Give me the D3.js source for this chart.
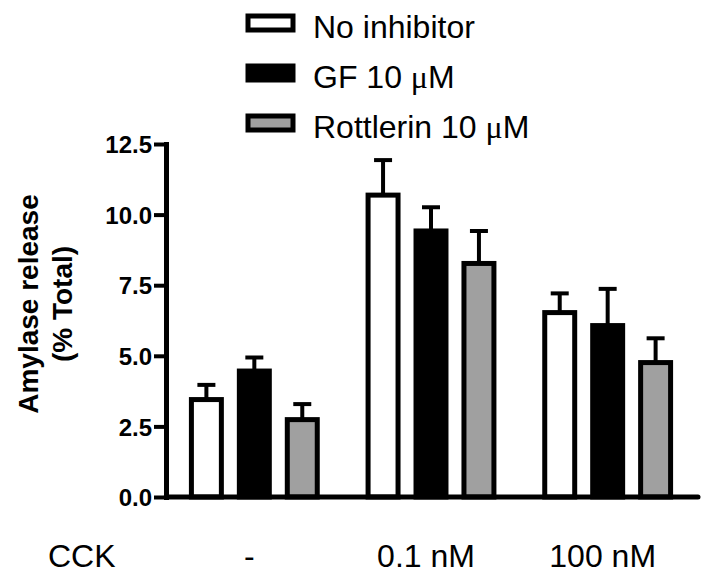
<!DOCTYPE html>
<html>
<head>
<meta charset="utf-8">
<script src="https://cdn.jsdelivr.net/npm/d3@7"></script>
<style>
  body { margin: 0; background: #fff; }
  text { font-family: 'Liberation Sans', Arial, sans-serif; }
</style>
</head>
<body>
<div id="chart"></div>
<script>
const groups = ['-', '0.1 nM', '100 nM']
const series = ['No inhibitor', 'GF 10 \u03bcM', 'Rottlerin 10 \u03bcM']
const seriesColors = ['#ffffff', '#000000', '#a0a0a0']

// mean and SEM per group, one array per series
const noInhibitor = [3.45, 10.69, 6.53]
const noInhibitorErr = [0.52, 1.24, 0.68]
const gf = [4.46, 9.42, 6.07]
const gfErr = [0.48, 0.84, 1.3]
const rottlerin = [2.74, 8.27, 4.76]
const rottlerinErr = [0.55, 1.15, 0.86]

const yTicks = [0, 2.5, 5, 7.5, 10, 12.5]

const width = 709
const height = 586

const svg = d3
  .select('#chart')
  .append('svg')
  .attr('width', width)
  .attr('height', height)

const xPositionScale = d3
  .scaleBand()
  .domain(groups)
  .range([166, 696])

const innerScale = d3
  .scaleBand()
  .domain(series)
  .range([0, xPositionScale.bandwidth()])
  .paddingInner(0.375)
  .paddingOuter(0.53)

const yPositionScale = d3
  .scaleLinear()
  .domain([0, 12.5])
  .range([497, 144])

const colorScale = d3.scaleOrdinal().domain(series).range(seriesColors)

const means = [noInhibitor, gf, rottlerin]
const errs = [noInhibitorErr, gfErr, rottlerinErr]

const datapoints = []
series.forEach((s, i) => {
  groups.forEach((g, j) => {
    datapoints.push({ group: g, series: s, value: means[i][j], err: errs[i][j] })
  })
})

const barX = d => xPositionScale(d.group) + innerScale(d.series)
const barMid = d => barX(d) + innerScale.bandwidth() / 2

// error bars (upper only)
svg
  .selectAll('.err-line')
  .data(datapoints)
  .enter()
  .append('line')
  .attr('class', 'err-line')
  .attr('x1', barMid)
  .attr('x2', barMid)
  .attr('y1', d => yPositionScale(d.value))
  .attr('y2', d => yPositionScale(d.value + d.err))
  .attr('stroke', '#000')
  .attr('stroke-width', 4)

svg
  .selectAll('.err-cap')
  .data(datapoints)
  .enter()
  .append('line')
  .attr('class', 'err-cap')
  .attr('x1', d => barMid(d) - 9)
  .attr('x2', d => barMid(d) + 9)
  .attr('y1', d => yPositionScale(d.value + d.err))
  .attr('y2', d => yPositionScale(d.value + d.err))
  .attr('stroke', '#000')
  .attr('stroke-width', 4)

svg
  .selectAll('.bar')
  .data(datapoints)
  .enter()
  .append('rect')
  .attr('class', 'bar')
  .attr('x', barX)
  .attr('width', innerScale.bandwidth())
  .attr('y', d => yPositionScale(d.value))
  .attr('height', d => yPositionScale(0) - yPositionScale(d.value))
  .attr('fill', d => colorScale(d.series))
  .attr('stroke', '#000')
  .attr('stroke-width', 5)

// y axis
const yAxis = d3
  .axisLeft(yPositionScale)
  .tickValues(yTicks)
  .tickFormat(d3.format('.1f'))
  .tickSize(12)
  .tickSizeOuter(0)
  .tickPadding(2)

const yG = svg
  .append('g')
  .attr('class', 'axis y-axis')
  .attr('transform', 'translate(166,0)')
  .call(yAxis)

yG.select('.domain').attr('stroke-width', 5).attr('stroke-linecap', 'square')
yG.selectAll('.tick line').attr('stroke-width', 4)
yG
  .selectAll('.tick text')
  .attr('font-size', 24)
  .attr('font-weight', 'bold')
  .attr('fill', '#000')
  .attr('font-family', "'Liberation Sans', Arial, sans-serif")
  .attr('dy', '0.36em')

// x axis baseline
const xAxis = d3.axisBottom(xPositionScale).tickSize(0).tickSizeOuter(0).tickFormat('')

const xG = svg
  .append('g')
  .attr('class', 'axis x-axis')
  .attr('transform', 'translate(0,497)')
  .call(xAxis)

xG.select('.domain')
  .attr('d', 'M166,0H698')
  .attr('stroke-width', 5)
  .attr('stroke-linecap', 'round')

// category labels
svg
  .selectAll('.group-label')
  .data(groups)
  .enter()
  .append('text')
  .attr('class', 'group-label')
  .attr('x', d => xPositionScale(d) + xPositionScale.bandwidth() / 2 - 5)
  .attr('y', 567)
  .attr('text-anchor', 'middle')
  .attr('font-size', 32)
  .text(d => d)

svg
  .append('text')
  .attr('x', 48)
  .attr('y', 567)
  .attr('font-size', 32)
  .text('CCK')

// y axis title
const yTitle = svg
  .append('text')
  .attr('transform', 'translate(38,304) rotate(-90)')
  .attr('text-anchor', 'middle')
  .attr('font-size', 28)
  .attr('font-weight', 'bold')

yTitle.append('tspan').attr('x', 0).attr('y', 0).text('Amylase release')
yTitle.append('tspan').attr('x', 0).attr('y', 34).text('(% Total)')

// legend
const legend = svg
  .selectAll('.legend')
  .data(series)
  .enter()
  .append('g')
  .attr('class', 'legend')
  .attr('transform', (d, i) => `translate(248,${38 + i * 50})`)

legend
  .append('rect')
  .attr('x', 0)
  .attr('y', -22)
  .attr('width', 45)
  .attr('height', 14)
  .attr('fill', d => colorScale(d))
  .attr('stroke', '#000')
  .attr('stroke-width', 5)

const legendText = legend
  .append('text')
  .attr('x', 65)
  .attr('y', 0)
  .attr('font-size', 32)

legendText.each(function (d) {
  const t = d3.select(this)
  const parts = d.split('\u03bc')
  t.append('tspan').text(parts[0])
  if (parts.length > 1) {
    t.append('tspan').attr('font-family', "'Liberation Serif', serif").text('\u03bc')
    t.append('tspan').text(parts[1])
  }
})
</script>
</body>
</html>
